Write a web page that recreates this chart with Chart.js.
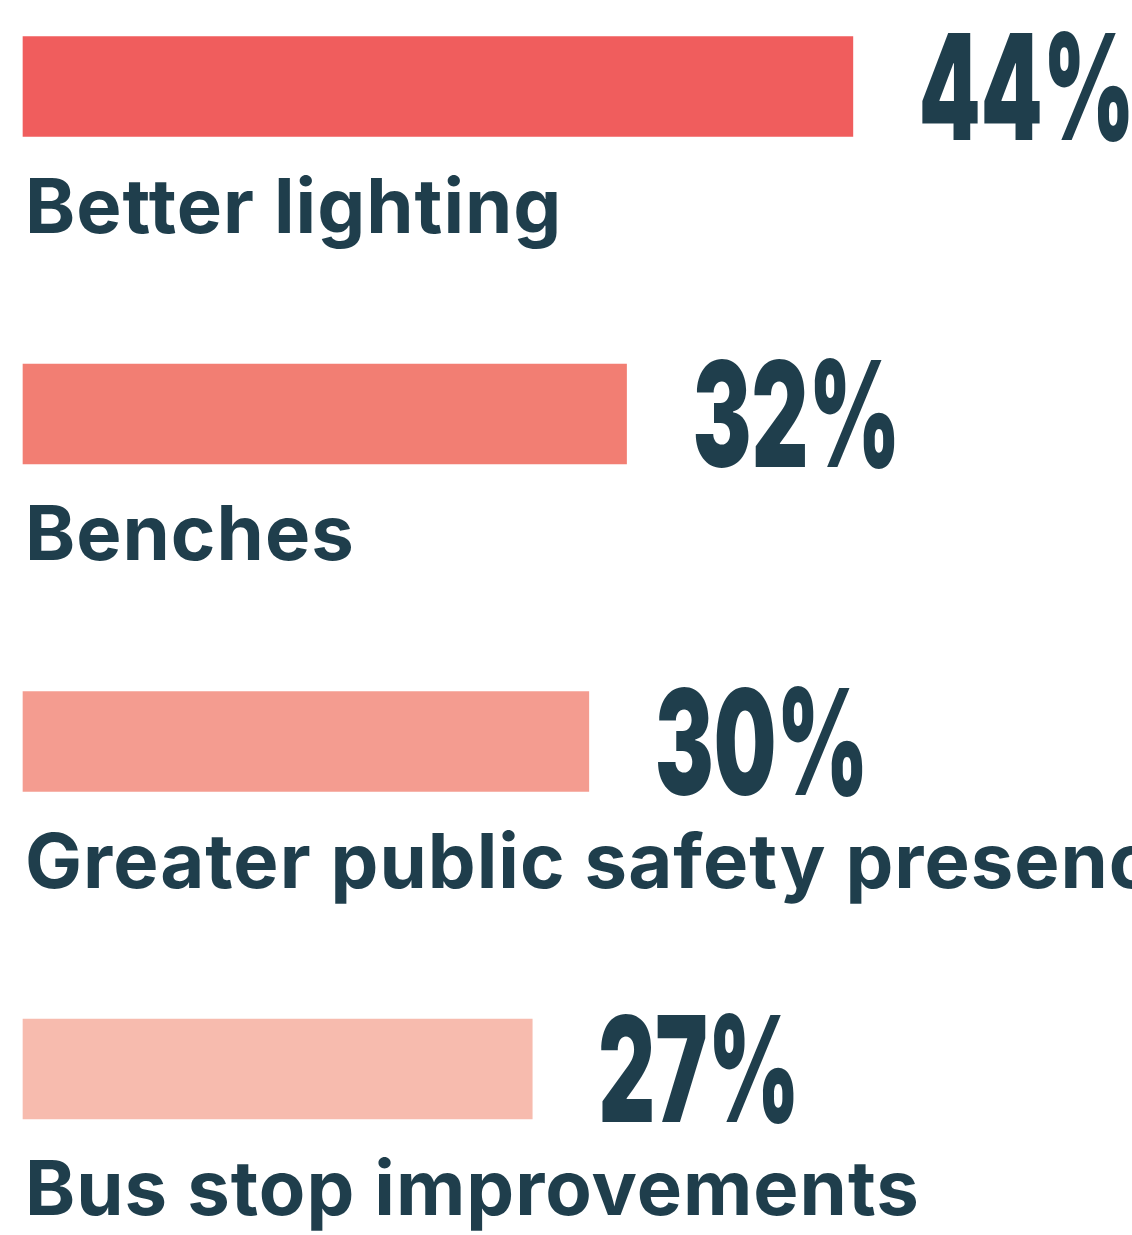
<!DOCTYPE html>
<html>
<head>
<meta charset="utf-8">
<title>Bus stop priorities</title>
<script src="https://cdn.jsdelivr.net/npm/chart.js@4/dist/chart.umd.min.js"></script>
<style>
  html, body { margin: 0; padding: 0; background: #ffffff; }
  #wrap { width: 1132px; height: 1235px; position: relative; }
</style>
</head>
<body>
<div id="wrap"><canvas id="priorityChart"></canvas></div>
<script>
const categories = ['Better lighting', 'Benches', 'Greater public safety presence', 'Bus stop improvements'];
const shares = [44, 32, 30, 27];
const barColors = ['#F05D5D', '#F27E73', '#F49C90', '#F7BBAE'];
const inkColor = '#1F3E4C';

// category name under each bar, big condensed percentage to its right
const barLabels = {
    id: 'barLabels',
    afterDatasetsDraw(chart) {
        const ctx = chart.ctx;
        const meta = chart.getDatasetMeta(0);
        meta.data.forEach((bar, i) => {
            ctx.save();
            ctx.fillStyle = inkColor;
            ctx.textBaseline = 'alphabetic';
            ctx.textAlign = 'left';
            ctx.font = '700 76px Inter, "Noto Sans", sans-serif';
            ctx.letterSpacing = '1px';
            ctx.fillText(categories[i], chart.chartArea.left + 2, bar.y + 146);

            ctx.letterSpacing = '0px';
            ctx.translate(bar.x + 66, bar.y + 53);
            ctx.scale(0.6, 1);
            ctx.font = '900 147px Inter, "Noto Sans", sans-serif';
            ctx.fillText(shares[i] + '%', 0, 0);
            ctx.restore();
        });
    }
};

function build() {
    const ctx = document.getElementById('priorityChart').getContext('2d');
    new Chart(ctx, {
        type: 'bar',
        data: {
            labels: categories,
            datasets: [{
                data: shares,
                backgroundColor: barColors,
                barThickness: 100,
                borderWidth: 0,
                clip: false
            }]
        },
        options: {
            indexAxis: 'y',
            animation: false,
            responsive: true,
            maintainAspectRatio: false,
            events: [],
            layout: {
                padding: { left: 23, right: 0, top: 86.5, bottom: 166 }
            },
            plugins: {
                legend: { display: false },
                tooltip: { enabled: false }
            },
            scales: {
                x: { display: false, min: 0, max: 58.8 },
                y: { display: false, offset: false }
            }
        },
        plugins: [barLabels]
    });
}

Promise.all([
    document.fonts.load('700 76px Inter'),
    document.fonts.load('900 147px Inter')
]).then(build, build);
</script>
</body>
</html>
